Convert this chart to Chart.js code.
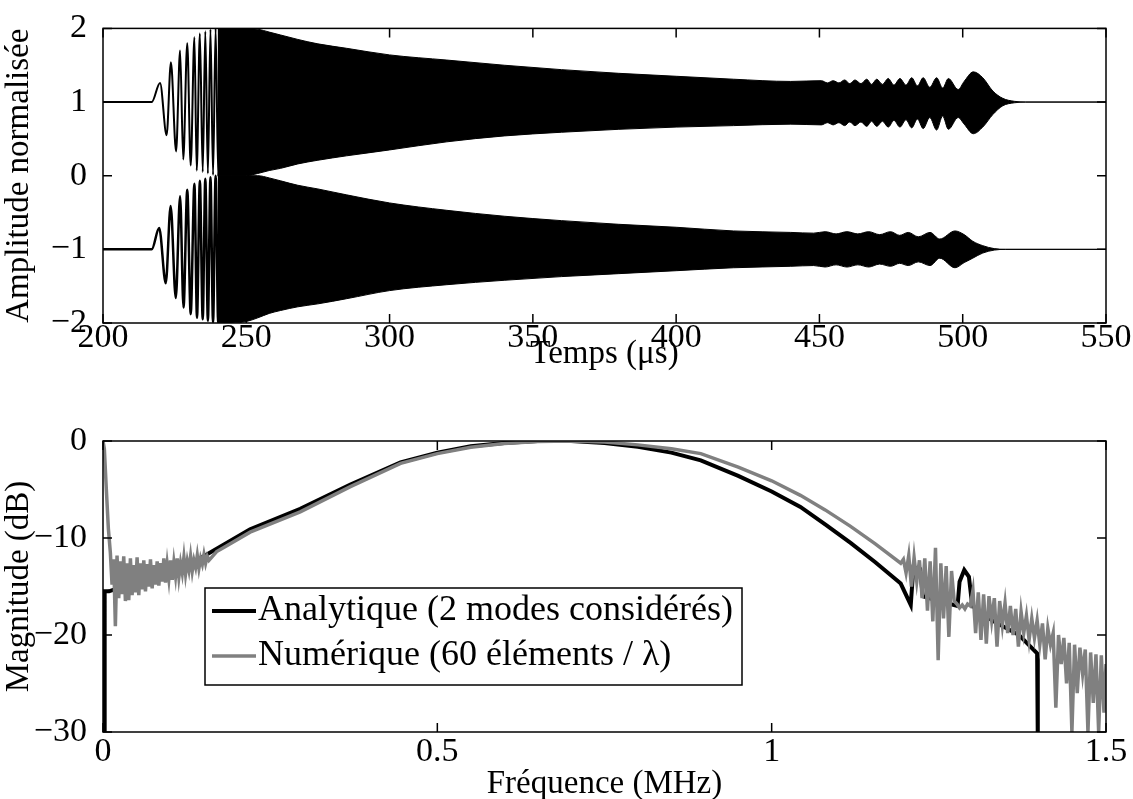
<!DOCTYPE html>
<html><head><meta charset="utf-8">
<script src="https://cdn.jsdelivr.net/npm/chart.js@4/dist/chart.umd.min.js"></script>
<style>
html,body{margin:0;padding:0;background:#fff;width:1133px;height:799px;overflow:hidden}
#c1{position:absolute;left:0;top:0}
#c2{position:absolute;left:0;top:380px}
</style></head><body>
<canvas id="c1" width="1133" height="380"></canvas>
<canvas id="c2" width="1133" height="419"></canvas>
<script>
// ---------- top panel data ----------
const timeTicks = [200, 250, 300, 350, 400, 450, 500, 550];
const ampTicks = [-2, -1, 0, 1, 2];

// first visible cycles of the upper trace (offset +1)
const waveTopT = [200, 217, 219.9, 222.2, 223.7, 225.5, 226.9, 228.0, 229.4, 230.6, 231.9, 232.7, 233.8, 234.8, 235.7, 236.6, 237.5, 238.4, 239.3, 240.2, 241.1];
const waveTopV = [1, 1, 1.26, 0.55, 1.54, 0.33, 1.70, 0.22, 1.80, 0.14, 1.88, 0.07, 1.93, 0.05, 1.96, 0.03, 1.99, 0.01, 2.0, 0.0, 2.0];
// envelope of the dense part of the upper trace
const envTopT = [240, 245, 250, 254, 258, 262, 268, 275, 285, 300, 320, 340, 360, 380, 400, 420, 440, 450.7, 452.8, 454.8, 456.8, 458.8, 460.6, 462.4, 464.5, 466.5, 468.2, 470, 472, 474, 476, 478.1, 480.2, 482.2, 484.2, 486.2, 488.5, 490.9, 493, 495, 498.4, 500.5, 503.7, 507, 510.5, 514, 518, 522, 550];
const envTopUp = [2.0, 2.0, 2.0, 1.99, 1.95, 1.91, 1.85, 1.79, 1.73, 1.64, 1.57, 1.50, 1.44, 1.39, 1.35, 1.31, 1.28, 1.29, 1.26, 1.29, 1.26, 1.30, 1.25, 1.30, 1.25, 1.31, 1.24, 1.31, 1.24, 1.32, 1.23, 1.32, 1.23, 1.33, 1.22, 1.33, 1.20, 1.33, 1.19, 1.32, 1.17, 1.28, 1.41, 1.33, 1.15, 1.05, 1.01, 1.0, 1.0];
const envTopLow = [0.0, 0.0, 0.0, 0.03, 0.07, 0.10, 0.16, 0.21, 0.27, 0.35, 0.46, 0.54, 0.59, 0.63, 0.66, 0.68, 0.70, 0.69, 0.72, 0.69, 0.72, 0.68, 0.73, 0.68, 0.73, 0.67, 0.74, 0.67, 0.74, 0.66, 0.75, 0.66, 0.76, 0.65, 0.77, 0.64, 0.79, 0.62, 0.81, 0.63, 0.79, 0.70, 0.57, 0.66, 0.83, 0.95, 0.99, 1.0, 1.0];

// lower trace (offset -1)
const waveBotT = [200, 217, 219.6, 221.9, 223.6, 225.4, 226.9, 228.1, 229.4, 230.6, 231.9, 232.8, 233.8, 234.8, 235.7, 236.6, 237.5, 238.4, 239.3, 240.2, 241.1];
const waveBotV = [-1, -1, -0.71, -1.46, -0.41, -1.66, -0.28, -1.79, -0.19, -1.88, -0.11, -1.93, -0.07, -1.95, -0.04, -1.97, -0.02, -1.99, 0.0, -2.0, 0.0];
const envBotT = [240, 245, 250, 254, 258, 262, 268, 275, 285, 300, 320, 340, 360, 380, 400, 420, 440, 448, 452, 455.8, 459.6, 463.4, 467.2, 471, 474.8, 478, 481, 484.5, 488.6, 492, 497.3, 500.5, 503.5, 507, 511, 515, 550];
const envBotUp = [0.0, 0.0, 0.0, 0.0, -0.03, -0.07, -0.13, -0.18, -0.26, -0.37, -0.47, -0.55, -0.61, -0.66, -0.70, -0.75, -0.77, -0.78, -0.76, -0.79, -0.76, -0.79, -0.76, -0.80, -0.76, -0.81, -0.77, -0.83, -0.77, -0.86, -0.75, -0.80, -0.89, -0.95, -0.99, -1.0, -1.0];
const envBotLow = [-2.0, -2.0, -1.98, -1.93, -1.87, -1.83, -1.78, -1.74, -1.67, -1.56, -1.48, -1.42, -1.37, -1.33, -1.29, -1.25, -1.23, -1.22, -1.24, -1.21, -1.24, -1.21, -1.24, -1.20, -1.23, -1.19, -1.22, -1.17, -1.22, -1.12, -1.25, -1.18, -1.12, -1.05, -1.01, -1.0, -1.0];

// ---------- bottom panel data ----------
const freqTicks = [0, 0.5, 1, 1.5];
const dbTicks = [-30, -20, -10, 0];
const seriesNames = ['Analytique (2 modes considérés)', 'Numérique (60 éléments / λ)'];

const anaF = [0, 0.002, 0.0025, 0.009, 0.03, 0.06, 0.1, 0.145, 0.22, 0.295, 0.37, 0.445, 0.5, 0.55, 0.6, 0.65, 0.7, 0.75, 0.8, 0.85, 0.894, 0.95, 1.0, 1.043, 1.08, 1.118, 1.155, 1.193, 1.208, 1.212, 1.222, 1.226, 1.25, 1.278, 1.281, 1.288, 1.295, 1.30, 1.33, 1.37, 1.397, 1.398, 1.5];
const anaDb = [-31, -31, -15.5, -15.5, -15.0, -14.2, -13.4, -12.1, -9.1, -7.0, -4.5, -2.2, -1.2, -0.55, -0.2, 0, 0, -0.2, -0.6, -1.2, -2.0, -3.6, -5.2, -6.8, -8.6, -10.5, -12.5, -14.7, -16.9, -13.0, -13.2, -16.0, -16.5, -17.0, -14.5, -13.3, -14.0, -17.0, -18.5, -20.0, -21.9, -31, -31];

const numF = [0, 0.002, 0.005, 0.008,
  0.011, 0.0135, 0.016, 0.0185, 0.021, 0.0235, 0.026, 0.0285, 0.031, 0.0335,
  0.036, 0.0385, 0.041, 0.0435, 0.046, 0.0485, 0.051, 0.0535, 0.056, 0.0585,
  0.061, 0.0635, 0.066, 0.0685, 0.071, 0.0735, 0.076, 0.0785, 0.081, 0.0835,
  0.086, 0.0885, 0.091, 0.0935, 0.096, 0.0985, 0.101, 0.1035, 0.106, 0.1085,
  0.111, 0.1135, 0.116, 0.1185, 0.121, 0.1235, 0.126, 0.1285, 0.131, 0.1335,
  0.136, 0.1385, 0.141, 0.1435, 0.146, 0.1485, 0.151, 0.1535, 0.156, 0.1585,
  0.17, 0.18, 0.22, 0.295, 0.37, 0.445, 0.5, 0.55, 0.6, 0.65, 0.7, 0.75, 0.8, 0.85, 0.894, 0.95, 1.0, 1.043, 1.08, 1.118, 1.155, 1.193,
  1.197, 1.201, 1.205, 1.209, 1.213, 1.217, 1.221, 1.225, 1.229, 1.233,
  1.237, 1.241, 1.245, 1.249, 1.253, 1.257, 1.261, 1.265, 1.269, 1.273,
  1.277, 1.281, 1.285, 1.289, 1.293, 1.297, 1.301, 1.305, 1.309, 1.313,
  1.317, 1.321, 1.325, 1.329, 1.333, 1.337, 1.341, 1.345, 1.349, 1.353,
  1.357, 1.361, 1.365, 1.369, 1.373, 1.377, 1.381, 1.385, 1.389, 1.393,
  1.397, 1.401, 1.405, 1.409, 1.413, 1.417, 1.421, 1.425, 1.429, 1.433,
  1.437, 1.441, 1.445, 1.449, 1.453, 1.457, 1.461, 1.465, 1.469, 1.473,
  1.477, 1.481, 1.485, 1.489, 1.493, 1.497, 1.5];
const numDb = [0, -0.8, -5, -9,
  -11.5, -14.8, -12.2, -19.1, -11.8, -16.2, -12.4, -15.8, -11.9, -16.5,
  -12.6, -16.4, -12.1, -15.9, -12.8, -15.6, -12.0, -15.9, -12.6, -15.3,
  -12.3, -15.5, -12.7, -15.0, -12.2, -15.2, -12.8, -14.8, -12.4, -14.9,
  -12.6, -14.5, -12.1, -14.6, -12.7, -14.2, -12.3, -14.3, -12.5, -13.9,
  -12.1, -14.0, -12.6, -13.6, -12.0, -13.7, -12.4, -13.3, -11.9, -13.4,
  -12.3, -13.0, -11.8, -13.1, -12.1, -12.7, -11.7, -12.6, -11.9, -12.3,
  -11.4, -11.0, -9.4, -7.3, -4.7, -2.3, -1.3, -0.65, -0.25, -0.05, 0, -0.1, -0.4, -0.8, -1.3, -2.7, -4.1, -5.6, -7.1, -8.8, -10.6, -12.6,
  -12.2, -13.6, -11.8, -15.0, -12.0, -14.5, -12.3, -16.2, -12.1, -17.5,
  -12.4, -18.6, -11.0, -22.6, -12.6, -18.3, -12.9, -20.2, -13.4, -16.5,
  -16.8, -17.2, -16.9, -17.3, -16.8, -17.0, -15.4, -19.8, -15.6, -20.5,
  -15.8, -20.9, -16.0, -18.5, -16.2, -21.2, -16.5, -19.0, -16.7, -19.8,
  -17.0, -20.0, -17.3, -21.2, -17.6, -19.8, -18.0, -20.5, -18.3, -20.3,
  -18.5, -21.0, -18.8, -22.5, -19.3, -21.0, -19.8, -27.5, -20.0, -23.0,
  -20.3, -25.0, -20.8, -30.0, -21.0, -26.0, -21.3, -24.0, -21.5, -30.0,
  -21.8, -27.0, -22.0, -30.0, -22.1, -28.0, -23.0];

// ---------- helpers ----------
const FONT = "'Liberation Serif', 'DejaVu Serif', serif";
const pts = (xs, ys) => xs.map((v, i) => ({x: v, y: ys[i]}));
const fmt = v => (v < 0 ? '\u2212' + String(-v) : String(v));
const fixTicks = arr => s => { s.ticks = arr.map(v => ({value: v})); };

const frame = {
  id: 'frame',
  afterDatasetsDraw(chart) {
    const {ctx, chartArea: a, scales: {x, y}} = chart;
    ctx.save();
    ctx.strokeStyle = '#000';
    ctx.lineWidth = 1.5;
    ctx.strokeRect(a.left, a.top, a.right - a.left, a.bottom - a.top);
    const L = 9;
    ctx.beginPath();
    x.ticks.forEach(t => {
      const px = x.getPixelForValue(t.value);
      ctx.moveTo(px, a.bottom); ctx.lineTo(px, a.bottom - L);
      ctx.moveTo(px, a.top); ctx.lineTo(px, a.top + L);
    });
    y.ticks.forEach(t => {
      const py = y.getPixelForValue(t.value);
      ctx.moveTo(a.left, py); ctx.lineTo(a.left + L, py);
      ctx.moveTo(a.right, py); ctx.lineTo(a.right - L, py);
    });
    ctx.stroke();
    ctx.restore();
  }
};

const boxLegend = {
  id: 'boxLegend',
  afterDraw(chart, args, o) {
    if (!o || !o.w) return;
    const ctx = chart.ctx;
    ctx.save();
    ctx.fillStyle = '#fff';
    ctx.fillRect(o.x, o.y, o.w, o.h);
    ctx.strokeStyle = '#000';
    ctx.lineWidth = 1.5;
    ctx.strokeRect(o.x, o.y, o.w, o.h);
    ctx.font = o.font;
    ctx.textBaseline = 'middle';
    ctx.textAlign = 'left';
    chart.data.datasets.forEach((ds, i) => {
      const yy = o.y + o.first + i * o.gap;
      ctx.strokeStyle = ds.borderColor;
      ctx.lineWidth = ds.borderWidth;
      ctx.beginPath();
      ctx.moveTo(o.x + 7, yy); ctx.lineTo(o.x + 51, yy);
      ctx.stroke();
      ctx.fillStyle = '#000';
      ctx.fillText(ds.label, o.x + 53, yy);
    });
    ctx.restore();
  }
};

const tickFont = {family: FONT, size: 34};
const titleFont = {family: FONT, size: 33};

// ---------- top chart ----------
new Chart(document.getElementById('c1'), {
  type: 'line',
  data: {datasets: [
    {label: 'a', data: pts(envTopT, envTopLow), borderColor: '#000', borderWidth: 1, pointRadius: 0, fill: false, cubicInterpolationMode: 'monotone'},
    {label: 'b', data: pts(envTopT, envTopUp), borderColor: '#000', borderWidth: 1, pointRadius: 0, fill: '-1', backgroundColor: '#000', cubicInterpolationMode: 'monotone'},
    {label: 'c', data: pts(waveTopT, waveTopV), borderColor: '#000', borderWidth: 2, pointRadius: 0, cubicInterpolationMode: 'monotone', fill: false},
    {label: 'd', data: pts(envBotT, envBotLow), borderColor: '#000', borderWidth: 1, pointRadius: 0, fill: false, cubicInterpolationMode: 'monotone'},
    {label: 'e', data: pts(envBotT, envBotUp), borderColor: '#000', borderWidth: 1, pointRadius: 0, fill: '-1', backgroundColor: '#000', cubicInterpolationMode: 'monotone'},
    {label: 'f', data: pts(waveBotT, waveBotV), borderColor: '#000', borderWidth: 2.5, pointRadius: 0, cubicInterpolationMode: 'monotone', fill: false}
  ]},
  options: {
    responsive: false, animation: false, devicePixelRatio: 1,
    layout: {padding: {left: 0, top: 20, right: 27, bottom: 0}},
    plugins: {legend: {display: false}, tooltip: {enabled: false}},
    scales: {
      x: {type: 'linear', min: 200, max: 550, afterBuildTicks: fixTicks(timeTicks),
          grid: {display: false}, border: {display: false},
          ticks: {font: tickFont, color: '#000', padding: -13, maxRotation: 0, callback: v => fmt(v)},
          title: {display: true, text: 'Temps (\u03bcs)', font: titleFont, color: '#000', padding: {top: 0, bottom: 6}},
          afterFit: s => { s.height = 57; }},
      y: {type: 'linear', min: -2, max: 2, afterBuildTicks: fixTicks(ampTicks),
          grid: {display: false}, border: {display: false},
          ticks: {font: tickFont, color: '#000', padding: 8, callback: v => fmt(v)},
          title: {display: true, text: 'Amplitude normalisée', font: titleFont, color: '#000', padding: 0},
          afterFit: s => { s.width = 103; }}
    }
  },
  plugins: [frame]
});

// ---------- bottom chart ----------
new Chart(document.getElementById('c2'), {
  type: 'line',
  data: {datasets: [
    {label: seriesNames[0], data: pts(anaF, anaDb), borderColor: '#000', borderWidth: 4, pointRadius: 0, fill: false, order: 2},
    {label: seriesNames[1], data: pts(numF, numDb), borderColor: '#808080', borderWidth: 3.5, pointRadius: 0, fill: false, order: 1}
  ]},
  options: {
    responsive: false, animation: false, devicePixelRatio: 1,
    layout: {padding: {left: 0, top: 61, right: 27, bottom: 0}},
    plugins: {legend: {display: false}, tooltip: {enabled: false},
      boxLegend: {x: 205, y: 208, w: 537, h: 97, first: 23, gap: 45, font: "36px 'Liberation Serif', 'DejaVu Serif', serif"}},
    scales: {
      x: {type: 'linear', min: 0, max: 1.5, afterBuildTicks: fixTicks(freqTicks),
          grid: {display: false}, border: {display: false},
          ticks: {font: tickFont, color: '#000', padding: -8, maxRotation: 0, callback: v => fmt(v)},
          title: {display: true, text: 'Fréquence (MHz)', font: titleFont, color: '#000', padding: {top: 0, bottom: -5}},
          afterFit: s => { s.height = 67; }},
      y: {type: 'linear', min: -30, max: 0, afterBuildTicks: fixTicks(dbTicks),
          grid: {display: false}, border: {display: false},
          ticks: {font: tickFont, color: '#000', padding: 8, callback: v => fmt(v)},
          title: {display: true, text: 'Magnitude (dB)', font: titleFont, color: '#000', padding: 0},
          afterFit: s => { s.width = 103; }}
    }
  },
  plugins: [frame, boxLegend]
});
</script>
</body></html>
